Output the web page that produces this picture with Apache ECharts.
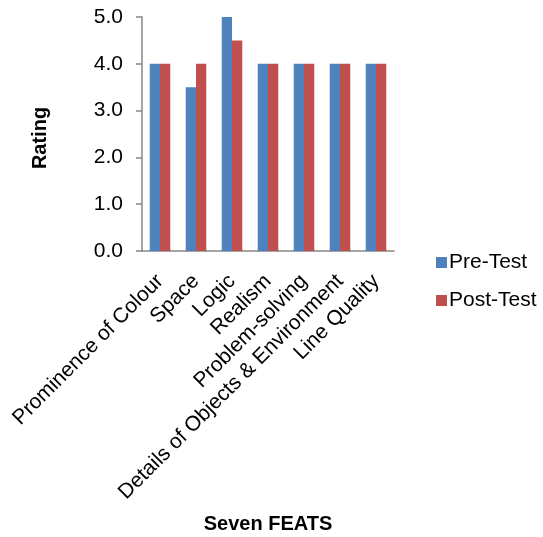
<!DOCTYPE html>
<html><head><meta charset="utf-8">
<script src="https://cdn.jsdelivr.net/npm/echarts@6/dist/echarts.min.js"></script>
<style>html,body{margin:0;padding:0;background:#fff}#c{width:543px;height:537px}</style>
</head><body><div id="c"></div>
<script>
const categories = ["Prominence of Colour","Space","Logic","Realism","Problem-solving","Details of Objects & Environment","Line Quality"];
const preTest = [4, 3.5, 5, 4, 4, 4, 4];
const postTest = [4, 4, 4.5, 4, 4, 4, 4];
const seriesNames = ["Pre-Test","Post-Test"];
const yTitle = "Rating";
const xTitle = "Seven FEATS";

const font = "'Liberation Sans', Arial, sans-serif";
const fs = 21;
const chart = echarts.init(document.getElementById('c'));
chart.setOption({
  animation: false,
  grid: {left: 142, top: 17, right: 149, bottom: 286, containLabel: false},
  legend: {
    orient: 'vertical', left: 431, top: 247, itemGap: 17,
    itemWidth: 11, itemHeight: 11, icon: 'rect',
    textStyle: {fontFamily: font, fontSize: fs, color: '#000', padding: [0,0,0,-3]},
    data: seriesNames
  },
  xAxis: {
    type: 'category', data: categories,
    axisLine: {lineStyle: {color: '#868686', width: 1.5}},
    axisTick: {show: false},
    axisLabel: {rotate: 45, interval: 0, margin: 27, fontFamily: font, fontSize: fs, color: '#000'}
  },
  yAxis: {
    type: 'value', min: 0, max: 5, interval: 1,
    splitLine: {show: false},
    axisLine: {show: true, lineStyle: {color: '#868686', width: 1.5}},
    axisTick: {show: true, length: 6, lineStyle: {color: '#868686', width: 1.5}},
    axisLabel: {formatter: v => v.toFixed(1), margin: 19, fontFamily: font, fontSize: fs, color: '#000'}
  },
  series: [
    {name: seriesNames[0], type: 'bar', data: preTest, barGap: '0%', barCategoryGap: '43%',
     itemStyle: {color: '#4F81BD'}},
    {name: seriesNames[1], type: 'bar', data: postTest, barGap: '0%', barCategoryGap: '43%',
     itemStyle: {color: '#C0504D'}}
  ],
  graphic: [
    {type: 'text', x: 40, y: 138, rotation: Math.PI/2, style: {text: yTitle, fontFamily: font, fontSize: 20, fontWeight: 'bold', fill: '#000', textAlign: 'center', textVerticalAlign: 'middle'}},
    {type: 'text', x: 268, y: 524, style: {text: xTitle, fontFamily: font, fontSize: 20, fontWeight: 'bold', fill: '#000', textAlign: 'center', textVerticalAlign: 'middle'}}
  ]
});
</script></body></html>
